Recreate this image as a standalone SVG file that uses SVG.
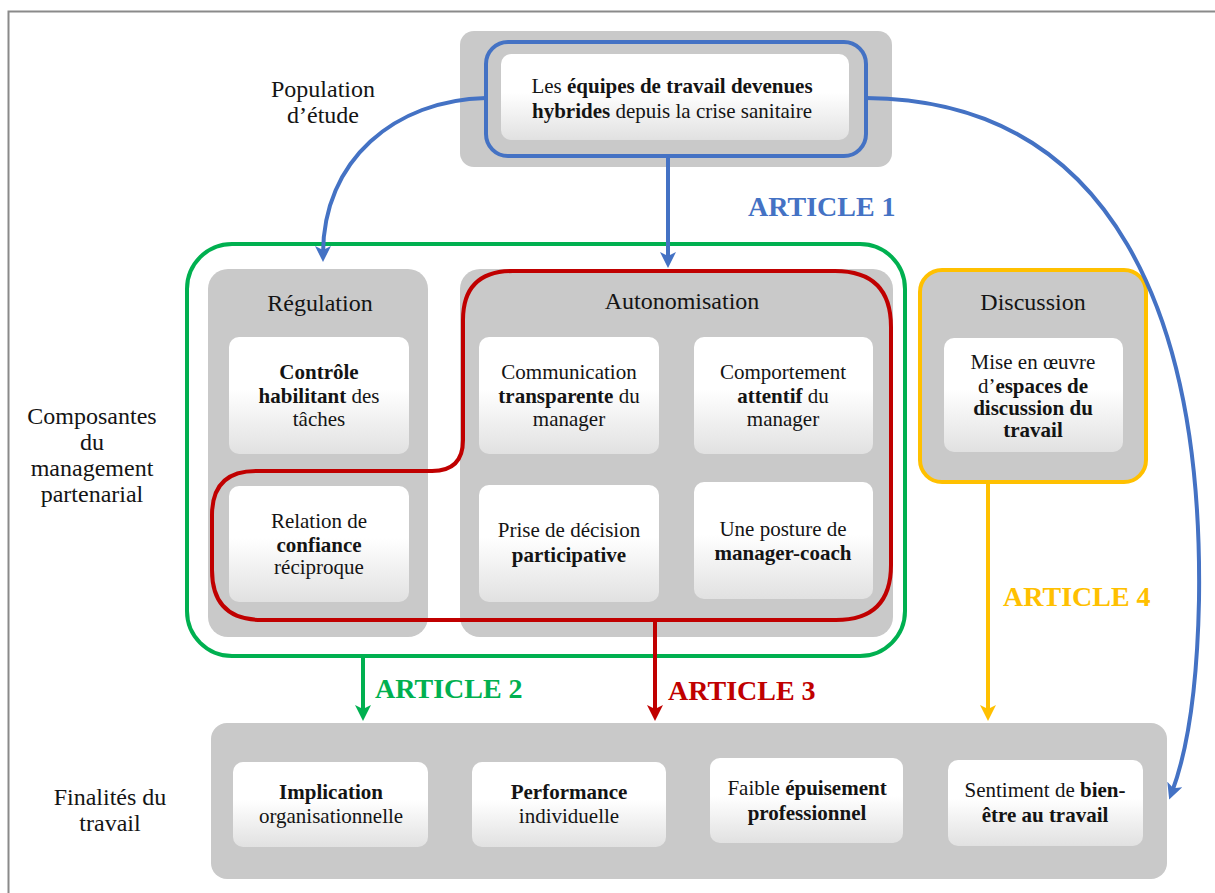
<svg xmlns="http://www.w3.org/2000/svg" width="1215" height="893" viewBox="0 0 1215 893">
<style>
text{fill:#141414;text-anchor:middle}
.b{font-size:21px}
.t{font-size:24px}
.bo{font-weight:bold}
.gray{fill:#c9c9c9}
.card{fill:url(#wg)}
.art{font-size:28px;font-weight:bold;text-anchor:start}
.ln{fill:none;stroke-width:4}
</style>
<defs>
<linearGradient id="wg" x1="0" y1="0" x2="0" y2="1">
<stop offset="0" stop-color="#ffffff"/>
<stop offset="0.45" stop-color="#ffffff"/>
<stop offset="1" stop-color="#e1e1e1"/>
</linearGradient>
<marker id="mb" viewBox="0 0 16 16" refX="8" refY="8" markerWidth="16" markerHeight="16" orient="auto" markerUnits="userSpaceOnUse"><path d="M0,0 L16,8 L0,16 L4,8 z" fill="#4472C4"/></marker>
<marker id="mg" viewBox="0 0 16 16" refX="8" refY="8" markerWidth="16" markerHeight="16" orient="auto" markerUnits="userSpaceOnUse"><path d="M0,0 L16,8 L0,16 L4,8 z" fill="#00B050"/></marker>
<marker id="mr" viewBox="0 0 16 16" refX="8" refY="8" markerWidth="16" markerHeight="16" orient="auto" markerUnits="userSpaceOnUse"><path d="M0,0 L16,8 L0,16 L4,8 z" fill="#C00000"/></marker>
<marker id="mo" viewBox="0 0 16 16" refX="8" refY="8" markerWidth="16" markerHeight="16" orient="auto" markerUnits="userSpaceOnUse"><path d="M0,0 L16,8 L0,16 L4,8 z" fill="#FFC000"/></marker>
</defs>
<rect width="1215" height="893" fill="#ffffff"/>
<path d="M8.5,893 V11.5 H1215" fill="none" stroke="#8a8a8a" stroke-width="2"/>

<g font-family="Liberation Serif, Times New Roman, serif">
<g id="labels">
<text class="t" x="323" y="97">Population</text>
<text class="t" x="323" y="123">d’étude</text>
<text class="t" x="92" y="424">Composantes</text>
<text class="t" x="92" y="450">du</text>
<text class="t" x="92" y="476">management</text>
<text class="t" x="92" y="502">partenarial</text>
<text class="t" x="110" y="805">Finalités du</text>
<text class="t" x="110" y="831">travail</text>
</g>

<g id="population">
<rect class="gray" x="460" y="31" width="432" height="136" rx="14"/>
<rect x="486" y="42" width="380" height="114" rx="22" fill="none" stroke="#4472C4" stroke-width="4"/>
<rect class="card" x="501" y="54" width="348" height="86" rx="10"/>
<text class="b" x="672" y="93">Les <tspan class="bo">équipes de travail devenues</tspan></text>
<text class="b" x="672" y="118"><tspan class="bo">hybrides</tspan> depuis la crise sanitaire</text>
</g>

<g id="regulation">
<rect class="gray" x="208" y="269" width="220" height="368" rx="20"/>
<text class="t" x="320" y="311">Régulation</text>
</g>
<g id="controle">
<rect class="card" x="229" y="337" width="180" height="117" rx="10"/>
<text class="b bo" x="319" y="379">Contrôle</text>
<text class="b" x="319" y="403"><tspan class="bo">habilitant</tspan> des</text>
<text class="b" x="319" y="426">tâches</text>
</g>
<g id="relation">
<rect class="card" x="229" y="486" width="180" height="116" rx="10"/>
<text class="b" x="319" y="528">Relation de</text>
<text class="b bo" x="319" y="552">confiance</text>
<text class="b" x="319" y="574">réciproque</text>
</g>

<g id="autonomisation">
<rect class="gray" x="460" y="269" width="433" height="368" rx="20"/>
<text class="t" x="682" y="309">Autonomisation</text>
</g>
<g id="communication">
<rect class="card" x="479" y="337" width="180" height="117" rx="10"/>
<text class="b" x="569" y="379">Communication</text>
<text class="b" x="569" y="403"><tspan class="bo">transparente</tspan> du</text>
<text class="b" x="569" y="426">manager</text>
</g>
<g id="comportement">
<rect class="card" x="694" y="337" width="179" height="117" rx="10"/>
<text class="b" x="783" y="379">Comportement</text>
<text class="b" x="783" y="403"><tspan class="bo">attentif</tspan> du</text>
<text class="b" x="783" y="426">manager</text>
</g>
<g id="prise">
<rect class="card" x="479" y="485" width="180" height="117" rx="10"/>
<text class="b" x="569" y="537">Prise de décision</text>
<text class="b bo" x="569" y="562">participative</text>
</g>
<g id="posture">
<rect class="card" x="694" y="482" width="179" height="117" rx="10"/>
<text class="b" x="783" y="536">Une posture de</text>
<text class="b bo" x="783" y="560">manager-coach</text>
</g>

<g id="discussion">
<rect class="gray" x="920" y="270" width="226" height="212" rx="22" stroke="#FFC000" stroke-width="4"/>
<text class="t" x="1033" y="310">Discussion</text>
<rect class="card" x="944" y="338" width="179" height="114" rx="10"/>
<text class="b" x="1033" y="369">Mise en œuvre</text>
<text class="b" x="1033" y="393">d’<tspan class="bo">espaces de</tspan></text>
<text class="b bo" x="1033" y="415">discussion du</text>
<text class="b bo" x="1033" y="437">travail</text>
</g>

<g id="finalites">
<rect class="gray" x="211" y="723" width="956" height="156" rx="16"/>
</g>
<g id="implication">
<rect class="card" x="233" y="762" width="195" height="85" rx="10"/>
<text class="b bo" x="331" y="799">Implication</text>
<text class="b" x="331" y="823">organisationnelle</text>
</g>
<g id="performance">
<rect class="card" x="472" y="762" width="194" height="85" rx="10"/>
<text class="b bo" x="569" y="799">Performance</text>
<text class="b" x="569" y="823">individuelle</text>
</g>
<g id="epuisement">
<rect class="card" x="710" y="758" width="193" height="85" rx="10"/>
<text class="b" x="807" y="795">Faible <tspan class="bo">épuisement</tspan></text>
<text class="b bo" x="807" y="820">professionnel</text>
</g>
<g id="bienetre">
<rect class="card" x="948" y="760" width="195" height="86" rx="10"/>
<text class="b" x="1045" y="797">Sentiment de <tspan class="bo">bien-</tspan></text>
<text class="b bo" x="1045" y="822">être au travail</text>
</g>

<g id="connectors">
<rect x="187" y="244" width="718" height="412" rx="45" class="ln" stroke="#00B050"/>
<path class="ln" stroke="#C00000" d="M513,271 H835 Q891,271 891,327 V565 Q891,620 836,620 H262 Q212,620 212,570 V515 Q212,471 256,471 H432 Q463,471 463,440 V320 Q463,271 513,271 Z"/>
<path class="ln" stroke="#4472C4" d="M486,98 C395,100 323,160 323,254" marker-end="url(#mb)"/>
<path class="ln" stroke="#4472C4" d="M668,156 V260" marker-end="url(#mb)"/>
<path class="ln" stroke="#4472C4" d="M866,98 C1115,100 1203,320 1199,600 C1197,700 1184,760 1172,792" marker-end="url(#mb)"/>
<path class="ln" stroke="#00B050" d="M363,656 V713" marker-end="url(#mg)"/>
<path class="ln" stroke="#C00000" d="M655,620 V713" marker-end="url(#mr)"/>
<path class="ln" stroke="#FFC000" d="M988,482 V713" marker-end="url(#mo)"/>
<text class="art" x="748" y="216" style="fill:#4472C4">ARTICLE 1</text>
<text class="art" x="375" y="698" style="fill:#00B050">ARTICLE 2</text>
<text class="art" x="668" y="700" style="fill:#C00000">ARTICLE 3</text>
<text class="art" x="1003" y="606" style="fill:#FFC000">ARTICLE 4</text>
</g>
</g>
</svg>
